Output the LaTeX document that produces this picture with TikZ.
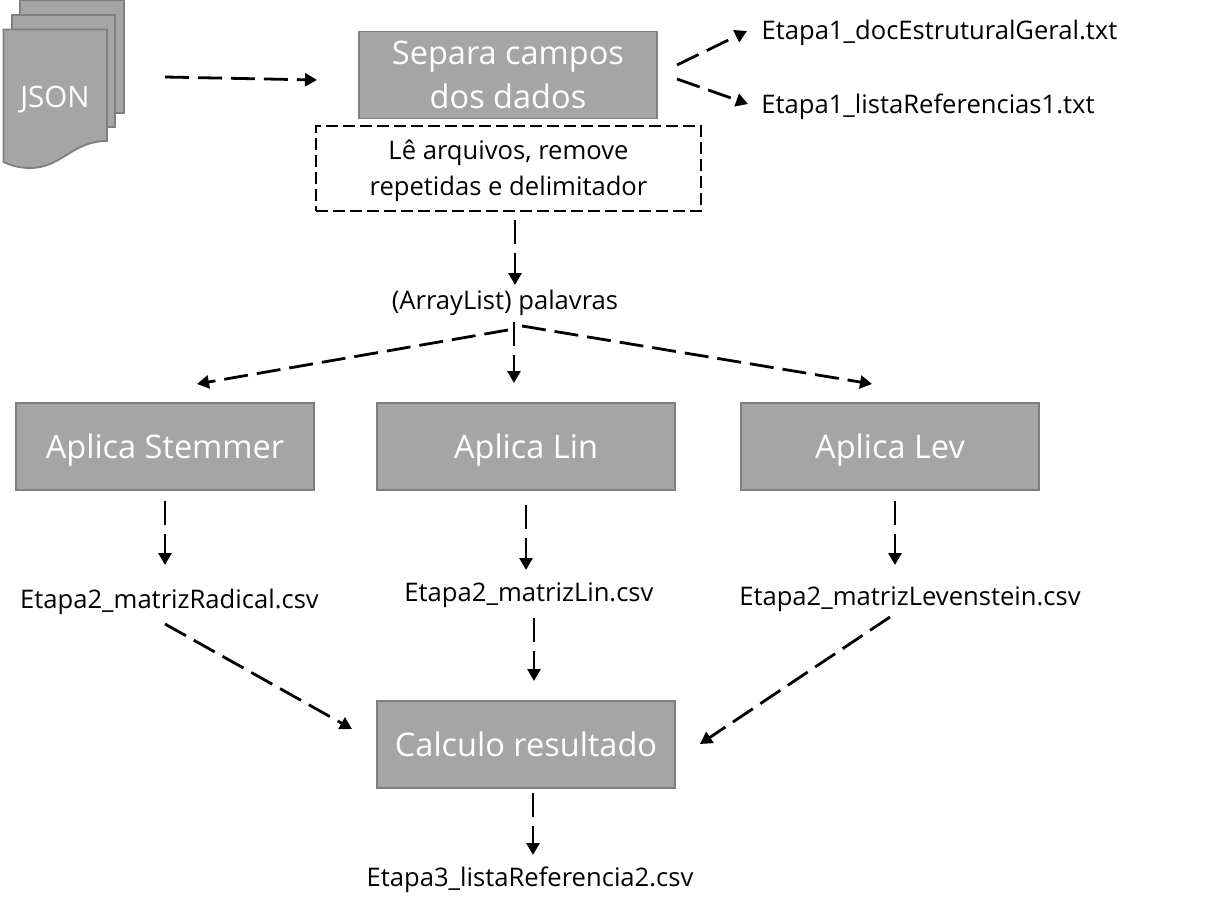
\documentclass[tikz,border=0pt]{standalone}
\usepackage{fontspec}
\setmainfont{Open Sans}
\usetikzlibrary{arrows.meta}
\definecolor{boxgray}{HTML}{A5A5A5}
\definecolor{boxedge}{HTML}{7F7F7F}
\tikzset{
  x=1pt,y=-1pt,
  procbox/.style={draw=boxedge,fill=boxgray,line width=1.8pt,text=white,minimum height=87pt,minimum width=298pt,inner sep=0pt,font=\fontsize{32.5}{44}\selectfont,align=center},
  oneline/.style={text depth=0pt},
  doc/.style={draw=boxedge,fill=boxgray,line width=1.8pt},
  lbl/.style={inner sep=0pt,text=black,font=\fontsize{25.6}{30}\selectfont,align=center},
  conn/.style={draw=black,line width=2.8pt,dash pattern=on 24pt off 9pt,-{Stealth[length=12pt,width=13pt,inset=0pt]}},
}
\begin{document}
\begin{tikzpicture}
\useasboundingbox (0,0) rectangle (1221,912);
\fill[white] (0,0) rectangle (1221,912);
% stacked document
\draw[doc] (20,0) -- (124,0) -- (124,113) -- (20,113) -- cycle;
\draw[doc] (12,15) -- (115,15) -- (115,127) -- (12,127) -- cycle;
\draw[doc] (3.5,29.5) -- (107,29.5) -- (107,141) .. controls (72,141) and (62,168) .. (30,168) .. controls (18,168) and (10,165) .. (3.5,162) -- cycle;
\node[inner sep=0pt,text=white,font=\fontsize{29.5}{34}\selectfont] (json) at (55,99.5) {JSON};
% process boxes
\node[procbox] (separa) at (508,75) {Separa campos\\dos dados};
\node[procbox,oneline] (stem) at (165,446.5) {Aplica Stemmer};
\node[procbox,oneline] (lin) at (526,446.5) {Aplica Lin};
\node[procbox,oneline] (lev) at (890,446.5) {Aplica Lev};
\node[procbox,oneline] (calc) at (526,744.5) {Calculo resultado};
% dashed box
\node[draw=black,line width=1.8pt,dash pattern=on 12pt off 5pt,minimum width=385pt,minimum height=85pt,inner sep=0pt] (le) at (508.5,168.5) {};
\node[lbl,font=\fontsize{25.6}{36}\selectfont] (letxt) at (508.5,171) {Lê arquivos, remove\\repetidas e delimitador};
% labels
\node[lbl] (doc1) at (939.5,33) {Etapa1\_docEstruturalGeral.txt};
\node[lbl] (ref1) at (928,107) {Etapa1\_listaReferencias1.txt};
\node[lbl] (pal) at (505,303) {(ArrayList) palavras};
\node[lbl] (mrad) at (169.5,601.5) {Etapa2\_matrizRadical.csv};
\node[lbl] (mlin) at (529,595.5) {Etapa2\_matrizLin.csv};
\node[lbl] (mlev) at (910,599.5) {Etapa2\_matrizLevenstein.csv};
\node[lbl] (ref2) at (530,879.5) {Etapa3\_listaReferencia2.csv};
% connector free ends
\coordinate (a1s) at (165,77); \coordinate (a1e) at (317,80);
\coordinate (a2s) at (677,65); \coordinate (a2e) at (747,31);
\coordinate (a3s) at (677,79); \coordinate (a3e) at (748,104);
\coordinate (a4s) at (515,220); \coordinate (a4e) at (515,285);
\coordinate (a5s) at (508,330); \coordinate (a5e) at (197,384);
\coordinate (a6s) at (514,322); \coordinate (a6e) at (514,383);
\coordinate (a7s) at (522,326); \coordinate (a7e) at (872,384);
\coordinate (b1s) at (165,501); \coordinate (b1e) at (165,565);
\coordinate (b2s) at (526,505); \coordinate (b2e) at (526,570);
\coordinate (b3s) at (895,501); \coordinate (b3e) at (895,565);
\coordinate (c1s) at (165,624); \coordinate (c1e) at (352,729);
\coordinate (c2s) at (534,618); \coordinate (c2e) at (534,681);
\coordinate (c3s) at (890,617); \coordinate (c3e) at (700,744);
\coordinate (d1s) at (533,793); \coordinate (d1e) at (533,855);
% connectors
\draw[conn] (a1s) -- (a1e);
\draw[conn] (a2s) -- (a2e);
\draw[conn] (a3s) -- (a3e);
\draw[conn] (a4s) -- (a4e);
\draw[conn] (a5s) -- (a5e);
\draw[conn] (a6s) -- (a6e);
\draw[conn] (a7s) -- (a7e);
\draw[conn] (b1s) -- (b1e);
\draw[conn] (b2s) -- (b2e);
\draw[conn] (b3s) -- (b3e);
\draw[conn] (c1s) -- (c1e);
\draw[conn] (c2s) -- (c2e);
\draw[conn] (c3s) -- (c3e);
\draw[conn] (d1s) -- (d1e);
\end{tikzpicture}
\end{document}
